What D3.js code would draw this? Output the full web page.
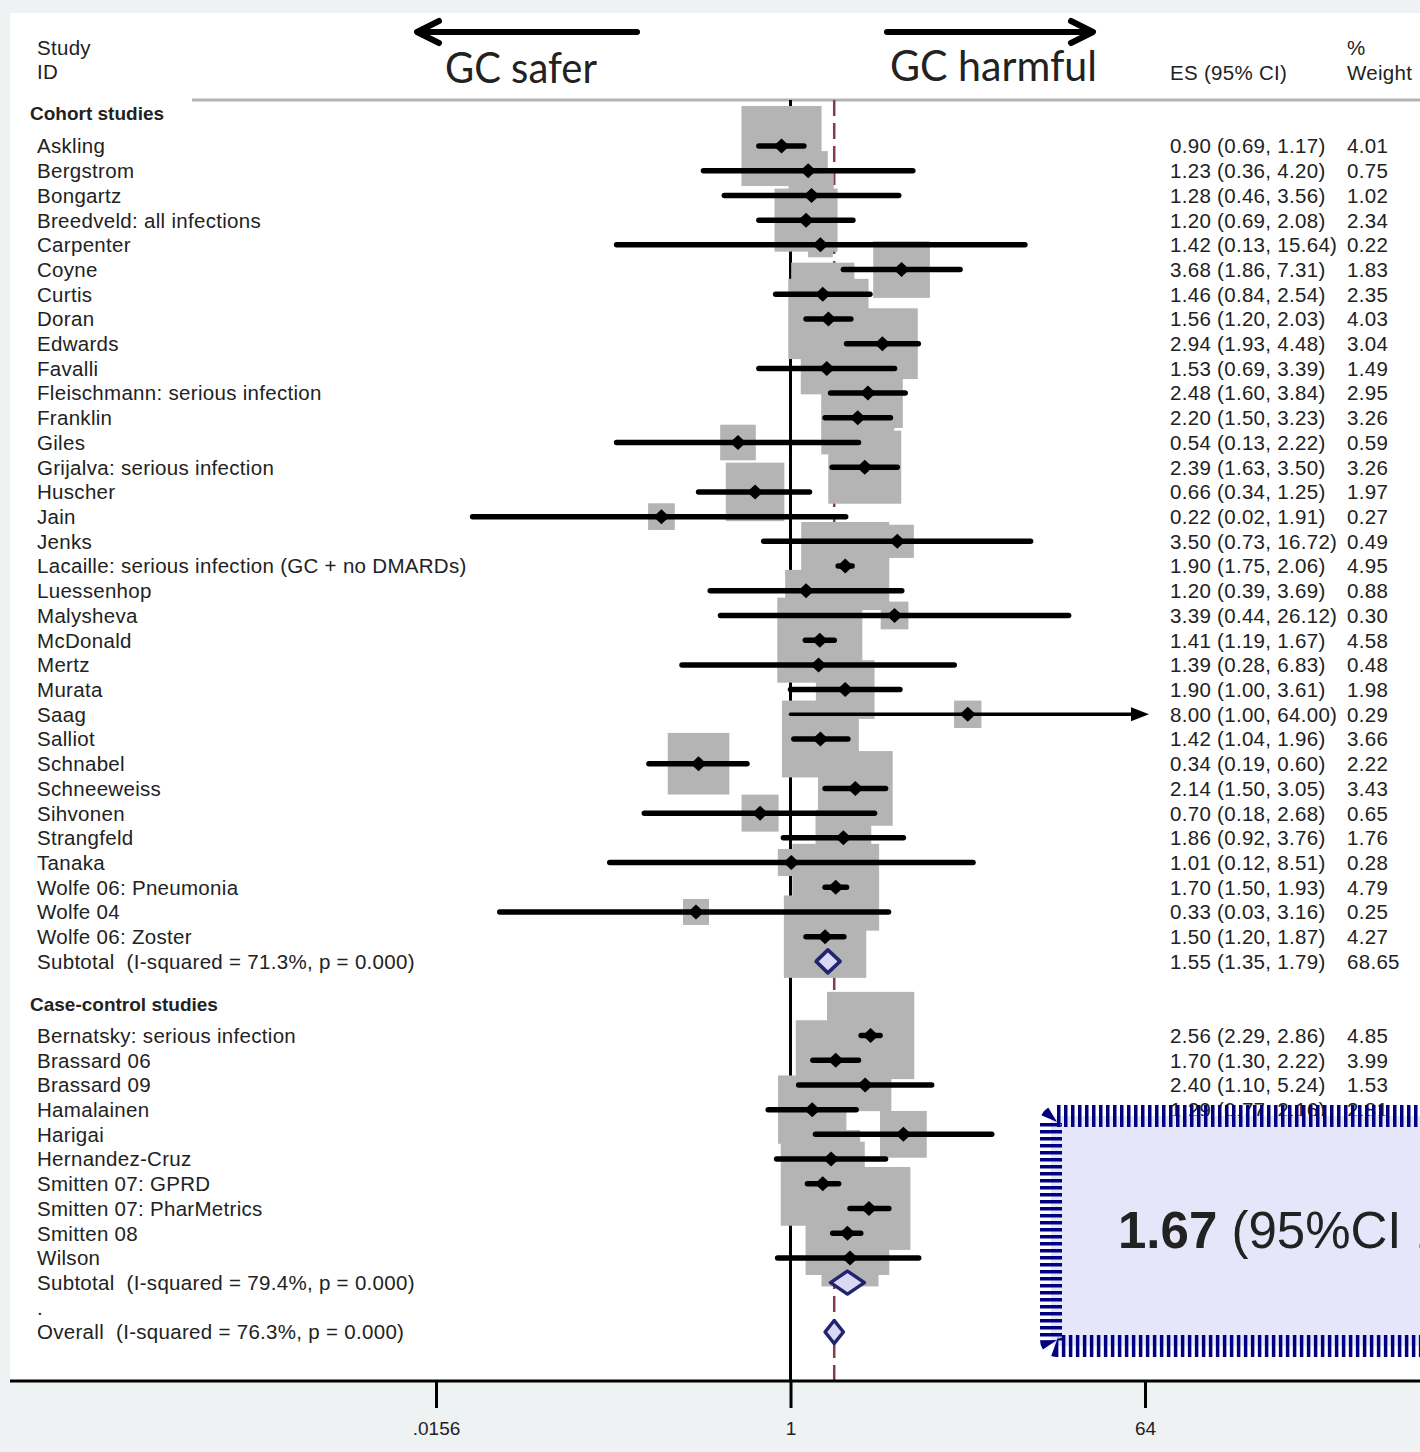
<!DOCTYPE html>
<html>
<head>
<meta charset="utf-8">
<script src="https://cdn.jsdelivr.net/npm/d3@7"></script>
<style>
body { margin: 0; background: #eef2f3; }
svg { display: block; }
text { font-family: "Liberation Sans", Arial, sans-serif; fill: #222; }
</style>
</head>
<body>
<svg id="chart" width="1420" height="1452"></svg>
<script>
// cohort studies
const cohort_studies = ["Askling", "Bergstrom", "Bongartz", "Breedveld: all infections", "Carpenter", "Coyne",
    "Curtis", "Doran", "Edwards", "Favalli", "Fleischmann: serious infection", "Franklin", "Giles",
    "Grijalva: serious infection", "Huscher", "Jain", "Jenks", "Lacaille: serious infection (GC + no DMARDs)",
    "Luessenhop", "Malysheva", "McDonald", "Mertz", "Murata", "Saag", "Salliot", "Schnabel", "Schneeweiss",
    "Sihvonen", "Strangfeld", "Tanaka", "Wolfe 06: Pneumonia", "Wolfe 04", "Wolfe 06: Zoster"]
const cohort_es = [0.90, 1.23, 1.28, 1.20, 1.42, 3.68, 1.46, 1.56, 2.94, 1.53, 2.48, 2.20, 0.54, 2.39, 0.66, 0.22,
    3.50, 1.90, 1.20, 3.39, 1.41, 1.39, 1.90, 8.00, 1.42, 0.34, 2.14, 0.70, 1.86, 1.01, 1.70, 0.33, 1.50]
const cohort_lo = [0.69, 0.36, 0.46, 0.69, 0.13, 1.86, 0.84, 1.20, 1.93, 0.69, 1.60, 1.50, 0.13, 1.63, 0.34, 0.024,
    0.73, 1.75, 0.39, 0.44, 1.19, 0.28, 1.00, 1.00, 1.04, 0.19, 1.50, 0.18, 0.92, 0.12, 1.50, 0.033, 1.20]
const cohort_hi = [1.17, 4.20, 3.56, 2.08, 15.64, 7.31, 2.54, 2.03, 4.48, 3.39, 3.84, 3.23, 2.22, 3.50, 1.25, 1.91,
    16.72, 2.06, 3.69, 26.12, 1.67, 6.83, 3.61, 64.00, 1.96, 0.60, 3.05, 2.68, 3.76, 8.51, 1.93, 3.16, 1.87]
const cohort_weight = [4.01, 0.75, 1.02, 2.34, 0.22, 1.83, 2.35, 4.03, 3.04, 1.49, 2.95, 3.26, 0.59, 3.26, 1.97, 0.27,
    0.49, 4.95, 0.88, 0.30, 4.58, 0.48, 1.98, 0.29, 3.66, 2.22, 3.43, 0.65, 1.76, 0.28, 4.79, 0.25, 4.27]

// case-control studies
const case_studies = ["Bernatsky: serious infection", "Brassard 06", "Brassard 09", "Hamalainen", "Harigai",
    "Hernandez-Cruz", "Smitten 07: GPRD", "Smitten 07: PharMetrics", "Smitten 08", "Wilson"]
const case_es = [2.56, 1.70, 2.40, 1.29, 3.76, 1.61, 1.46, 2.51, 1.95, 2.01]
const case_lo = [2.29, 1.30, 1.10, 0.77, 1.34, 0.85, 1.22, 2.01, 1.64, 0.86]
const case_hi = [2.86, 2.22, 5.24, 2.16, 10.60, 3.05, 1.76, 3.17, 2.28, 4.50]
const case_weight = [4.85, 3.99, 1.53, 2.81, 1.16, 1.94, 4.46, 4.33, 4.42, 1.86]

// pooled estimates: cohort subtotal, case-control subtotal, overall
const pooled_labels = ["Subtotal  (I-squared = 71.3%, p = 0.000)", "Subtotal  (I-squared = 79.4%, p = 0.000)",
    "Overall  (I-squared = 76.3%, p = 0.000)"]
const pooled_es = [1.55, 1.95, 1.67]
const pooled_lo = [1.35, 1.60, 1.50]
const pooled_hi = [1.79, 2.38, 1.86]
const pooled_weight = [68.65, 31.35, 100.00]

const group_labels = ["Cohort studies", "Case-control studies"]
const tick_values = [1 / 64, 1, 64]
const tick_labels = [".0156", "1", "64"]

const fmt = d3.format(".2f")

// build the row list (pos = row slot)
const rows = []
rows.push({kind: "group", label: group_labels[0], pos: -1.33})
cohort_studies.forEach((s, i) => rows.push({kind: "study", label: s, es: cohort_es[i], lo: cohort_lo[i],
    hi: cohort_hi[i], w: cohort_weight[i], pos: i}))
const n1 = cohort_studies.length
rows.push({kind: "pooled", label: pooled_labels[0], es: pooled_es[0], lo: pooled_lo[0], hi: pooled_hi[0],
    w: pooled_weight[0], pos: n1})
const start2 = n1 + 3
rows.push({kind: "group", label: group_labels[1], pos: start2 - 1.25})
case_studies.forEach((s, i) => rows.push({kind: "study", label: s, es: case_es[i], lo: case_lo[i],
    hi: case_hi[i], w: case_weight[i], pos: start2 + i}))
const n2 = start2 + case_studies.length
rows.push({kind: "pooled", label: pooled_labels[1], es: pooled_es[1], lo: pooled_lo[1], hi: pooled_hi[1],
    w: pooled_weight[1], pos: n2})
rows.push({kind: "dot", label: ".", pos: n2 + 1})
rows.push({kind: "pooled", label: pooled_labels[2], es: pooled_es[2], lo: pooled_lo[2], hi: pooled_hi[2],
    w: pooled_weight[2], pos: n2 + 2, overall: true})

const studies = rows.filter(d => d.kind === "study")
const pooled = rows.filter(d => d.kind === "pooled")

const svg = d3.select("#chart")
const x = d3.scaleLog().base(2).domain([1 / 64, 64]).range([436, 1145])
const y = d3.scaleLinear().domain([0, n2 + 2]).range([146, 1332])
const box_side = d3.scalePow().exponent(0.5).domain([0, 5]).range([8, 8 + 36 * Math.sqrt(5)])

const axis_y = 1381
const top_y = 100
const note_top = 1116

// white plot panel
svg.append("rect").attr("x", 10).attr("y", 13).attr("width", 1410).attr("height", axis_y - 13).attr("fill", "#fff")

// header rule
svg.append("line").attr("x1", 192).attr("x2", 1420).attr("y1", top_y).attr("y2", top_y)
    .attr("stroke", "#b3b3b3").attr("stroke-width", 3)

// null line and pooled line
svg.append("line").attr("x1", x(1)).attr("x2", x(1)).attr("y1", top_y).attr("y2", axis_y)
    .attr("stroke", "#000").attr("stroke-width", 3)
svg.append("line").attr("x1", x(pooled_es[2])).attr("x2", x(pooled_es[2])).attr("y1", top_y).attr("y2", axis_y)
    .attr("stroke", "#863a4b").attr("stroke-width", 2.5).attr("stroke-dasharray", "16,7")

// weight squares
svg.append("g").selectAll("rect")
    .data(studies)
    .join("rect")
    .attr("x", d => x(d.es) - box_side(d.w) / 2)
    .attr("y", d => y(d.pos) - box_side(d.w) / 2)
    .attr("width", d => box_side(d.w))
    .attr("height", d => box_side(d.w))
    .attr("fill", "#b4b4b4")

// confidence intervals
const xmax = x.domain()[1]
svg.append("g").selectAll("line")
    .data(studies)
    .join("line")
    .attr("x1", d => x(d.lo))
    .attr("x2", d => d.hi >= xmax ? x(xmax) - 8 : x(d.hi))
    .attr("y1", d => y(d.pos))
    .attr("y2", d => y(d.pos))
    .attr("stroke", "#000")
    .attr("stroke-width", d => d.hi >= xmax ? 3.5 : 5.5)
    .attr("stroke-linecap", "round")
// arrow where the interval runs off the axis
svg.append("g").selectAll("path")
    .data(studies.filter(d => d.hi >= xmax))
    .join("path")
    .attr("d", d => {
        const tx = x(xmax) + 4, ty = y(d.pos)
        return `M${tx},${ty}L${tx - 18},${ty - 7}L${tx - 18},${ty + 7}Z`
    })
    .attr("fill", "#000")

// point estimates
svg.append("g").selectAll("path")
    .data(studies)
    .join("path")
    .attr("d", d => {
        const cx = x(d.es), cy = y(d.pos)
        return `M${cx - 8},${cy}L${cx},${cy - 7.5}L${cx + 8},${cy}L${cx},${cy + 7.5}Z`
    })
    .attr("fill", "#000")

// pooled diamonds
svg.append("g").selectAll("path")
    .data(pooled)
    .join("path")
    .attr("d", d => {
        const cy = y(d.pos), h = 11.5
        return `M${x(d.lo)},${cy}L${x(d.es)},${cy - h}L${x(d.hi)},${cy}L${x(d.es)},${cy + h}Z`
    })
    .attr("fill", "#d9d9f6")
    .attr("stroke", "#23236e")
    .attr("stroke-width", 3.5)
    .attr("stroke-linejoin", "round")

// row labels
svg.append("g").selectAll("text")
    .data(rows)
    .join("text")
    .attr("x", d => d.kind === "group" ? 30 : 37)
    .attr("y", d => y(d.pos))
    .attr("dy", "0.36em")
    .attr("font-size", d => d.kind === "group" ? 19 : 20.5)
    .attr("letter-spacing", d => d.kind === "group" ? 0 : 0.3)
    .attr("font-weight", d => d.kind === "group" ? "bold" : "normal")
    .attr("fill", d => d.kind === "group" ? "#111" : "#222")
    .style("white-space", "pre")
    .text(d => d.label)

// ES and weight columns (rows hidden behind the note box are left out)
const with_es = rows.filter(d => d.es !== undefined && y(d.pos) - 10 < note_top)
svg.append("g").selectAll("text")
    .data(with_es)
    .join("text")
    .attr("x", 1170)
    .attr("y", d => y(d.pos))
    .attr("dy", "0.36em")
    .attr("font-size", 20.5)
    .attr("letter-spacing", 0.3)
    .text(d => `${fmt(d.es)} (${fmt(d.lo)}, ${fmt(d.hi)})`)
svg.append("g").selectAll("text")
    .data(with_es)
    .join("text")
    .attr("x", 1347)
    .attr("y", d => y(d.pos))
    .attr("dy", "0.36em")
    .attr("font-size", 20.5)
    .attr("letter-spacing", 0.3)
    .text(d => fmt(d.w))

// column headers
const head = svg.append("g").attr("font-size", 20.5).attr("letter-spacing", 0.3)
head.append("text").attr("x", 37).attr("y", 48).attr("dy", "0.36em").text("Study")
head.append("text").attr("x", 37).attr("y", 72).attr("dy", "0.36em").text("ID")
head.append("text").attr("x", 1170).attr("y", 73).attr("dy", "0.36em").text("ES (95% CI)")
head.append("text").attr("x", 1347).attr("y", 48).attr("dy", "0.36em").text("%")
head.append("text").attr("x", 1347).attr("y", 73).attr("dy", "0.36em").text("Weight")

// direction arrows
const arrow_y = 32
function arrow(x1, x2) {
    const dir = Math.sign(x2 - x1)
    const g = svg.append("g").attr("stroke", "#000").attr("stroke-width", 6).attr("fill", "none")
        .attr("stroke-linecap", "round")
    g.append("line").attr("x1", x1).attr("x2", x2 - dir * 3).attr("y1", arrow_y).attr("y2", arrow_y)
    g.append("path").attr("d", `M${x2 - dir * 22},${arrow_y - 11}L${x2},${arrow_y}L${x2 - dir * 22},${arrow_y + 11}`)
        .attr("stroke-linejoin", "round")
}
arrow(637, 417)
arrow(887, 1093)
svg.append("text").attr("x", 445).attr("y", 83).attr("font-size", 42)
    .style("font-family", "Lato, 'Open Sans', sans-serif").attr("fill", "#151515")
    .attr("textLength", 152).attr("lengthAdjust", "spacingAndGlyphs").text("GC safer")
svg.append("text").attr("x", 890).attr("y", 81).attr("font-size", 42)
    .style("font-family", "Lato, 'Open Sans', sans-serif").attr("fill", "#151515")
    .attr("textLength", 207).attr("lengthAdjust", "spacingAndGlyphs").text("GC harmful")

// x axis
svg.append("line").attr("x1", 10).attr("x2", 1420).attr("y1", axis_y).attr("y2", axis_y)
    .attr("stroke", "#000").attr("stroke-width", 3)
const ax = svg.append("g")
    .attr("transform", `translate(0,${axis_y})`)
    .call(d3.axisBottom(x).tickValues(tick_values).tickSize(27).tickPadding(14)
        .tickFormat((d, i) => tick_labels[i]))
ax.select(".domain").remove()
ax.selectAll(".tick line").attr("stroke", "#000").attr("stroke-width", 3)
ax.selectAll(".tick text").attr("font-size", 19).attr("fill", "#222")
    .style("font-family", "'Liberation Sans', Arial, sans-serif")

// annotation box
const note = svg.append("g")
note.append("rect")
    .attr("x", 1051).attr("y", note_top).attr("width", 500).attr("height", 230)
    .attr("rx", 6)
    .attr("fill", "#e6e6fa")
    .attr("stroke", "#000080")
    .attr("stroke-width", 22)
    .attr("stroke-dasharray", "3.5,3.5")
const note_text = note.append("text").attr("x", 1118).attr("y", 1248).attr("font-size", 51).attr("fill", "#3a3632")
note_text.append("tspan").attr("font-weight", "bold").text(fmt(pooled_es[2]))
note_text.append("tspan").text(` (95%CI ${fmt(pooled_lo[2])}\u2013${fmt(pooled_hi[2])})`)
</script>
</body>
</html>
